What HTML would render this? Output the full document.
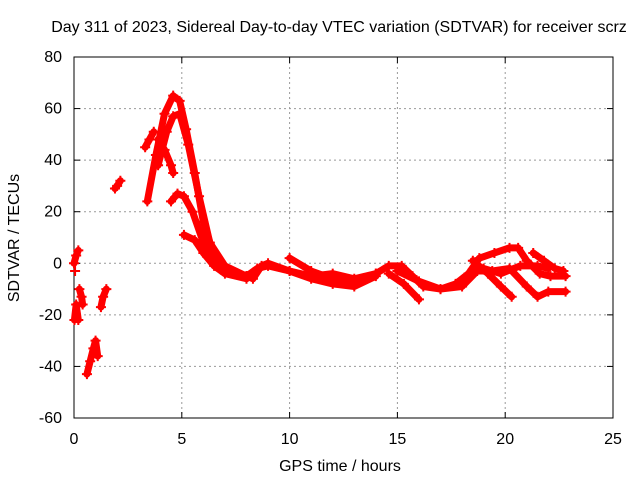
<!DOCTYPE html>
<html><head><meta charset="utf-8"><style>
body{margin:0;background:#fff}
svg{display:block;font-family:"Liberation Sans",sans-serif;font-size:16px}
</style></head><body>
<svg id="c" width="640" height="480">
<rect width="640" height="480" fill="#fff"/>
<g id="grid"></g>
<g id="axes"></g>
<g id="data"></g>
<text x="339" y="32" text-anchor="middle">Day 311 of 2023, Sidereal Day-to-day VTEC variation (SDTVAR) for receiver scrz</text>
<text x="340" y="471" text-anchor="middle">GPS time / hours</text>
<text transform="translate(19,238) rotate(-90)" text-anchor="middle">SDTVAR / TECUs</text>
</svg>
<script>
const xTicks=[0,5,10,15,20,25];
const yTicks=[-60,-40,-20,0,20,40,60,80];
const traceA=[[3.4,24],[3.8,42],[4.2,58],[4.6,65],[4.9,63],[5.2,52],[5.6,35],[6,16],[6.5,3],[7,-2],[7.5,-4],[8,-5],[8.3,-6],[8.7,-1],[9,0],[10,-3],[11,-5],[12,-4],[13,-6],[14,-4]];
const traceB=[[3.9,38],[4.3,51],[4.6,57],[4.9,58],[5.3,46],[5.8,26],[6.3,8],[7,-1],[8,-5],[8.5,-2],[9,-1],[10,-3],[11,-6],[12,-8],[13,-9],[14,-5]];
const traceC=[[3.3,45],[3.5,48],[3.7,51]];
const traceC2=[[3.9,48],[4.2,44],[4.5,38],[4.6,35]];
const traceD=[[4.5,24],[4.8,27],[5.1,26],[5.5,20],[6,8],[6.5,0],[7,-3],[8,-5]];
const traceE=[[5.1,11],[5.6,9],[6,4],[6.5,-1],[7,-4],[8,-6]];
const trace0a=[[0.02,-22],[0.1,-16],[0.2,-22]];
const trace0b=[[0.0,0],[0.1,3],[0.2,5]];
const trace0c=[[0.05,-3]];
const trace0d=[[0.25,-10],[0.35,-13],[0.4,-16]];
const trace0e=[[1.25,-17],[1.35,-13],[1.5,-10]];
const trace0f=[[0.6,-43],[0.75,-38],[0.9,-33],[1.0,-30],[1.1,-36]];
const trace0g=[[1.9,29],[2.0,30],[2.15,32]];
const traceF=[[10,2],[11,-3],[12,-6],[13,-8],[14,-4],[14.6,-1],[15.2,-1],[15.7,-5],[16.2,-9],[17,-10],[17.7,-8],[18.3,-4],[18.8,2],[19.5,4],[20.2,6],[20.6,6],[21,1],[21.6,-4],[22.1,-5],[22.8,-5]];
const traceG=[[14.6,-4],[15.3,-8],[16,-14]];
const traceH=[[15,-3],[16,-7],[17,-10],[18,-9],[18.7,-3],[19.4,-3],[20.2,-2],[21,-9],[21.5,-13],[22,-11],[22.8,-11]];
const traceI=[[18.5,1],[19.2,-4],[19.8,-9],[20.3,-13]];
const traceJ=[[19,-2],[19.8,-4],[20.7,-1],[21.5,-1],[22,-2]];
const traceK=[[21.3,4],[21.8,1],[22.3,-2],[22.7,-3]];
const traces=[traceA,traceB,traceC,traceC2,traceD,traceE,trace0a,trace0b,trace0c,trace0d,trace0e,trace0f,trace0g,traceF,traceG,traceH,traceI,traceJ,traceK];
const X0=74,X1=613,Y0=418,Y1=57;
const sx=v=>X0+(v-0)/25*(X1-X0);
const sy=v=>Y0-(v+60)/140*(Y0-Y1);
const NS="http://www.w3.org/2000/svg";
const g=document.getElementById('grid'),ax=document.getElementById('axes'),d=document.getElementById('data');
function mk(p,t,a){const e=document.createElementNS(NS,t);for(const k in a)e.setAttribute(k,a[k]);p.appendChild(e);return e;}
xTicks.forEach(t=>{const x=sx(t);
 if(t>0&&t<25){const l=mk(g,'line',{x1:x,x2:x,y1:Y1,y2:Y0,stroke:'#999','stroke-dasharray':'2,3'});
 
 }
 const tx=mk(ax,'text',{x:x,y:444,'text-anchor':'middle'});tx.textContent=t;
 
 
 mk(ax,'line',{x1:x,x2:x,y1:Y0,y2:Y0-6,stroke:'#000'});mk(ax,'line',{x1:x,x2:x,y1:Y1,y2:Y1+6,stroke:'#000'});});
yTicks.forEach(t=>{const y=sy(t);
 if(t>-60&&t<80){const l=mk(g,'line',{x1:X0,x2:X1,y1:y,y2:y,stroke:'#999','stroke-dasharray':'2,3'});
 
 }
 const tx=mk(ax,'text',{x:62,y:y+5,'text-anchor':'end'});tx.textContent=t;
 
 
 mk(ax,'line',{x1:X0,x2:X0+6,y1:y,y2:y,stroke:'#000'});mk(ax,'line',{x1:X1,x2:X1-6,y1:y,y2:y,stroke:'#000'});});
const fr=mk(ax,'rect',{x:X0,y:Y1,width:X1-X0,height:Y0-Y1,fill:'none',stroke:'#000'});


traces.forEach(tr=>{
 const pts=tr.map(p=>sx(p[0])+','+sy(p[1])).join(' ');
 const pl=mk(d,'polyline',{points:pts,fill:'none',stroke:'#f00','stroke-width':7,'stroke-linejoin':'round','stroke-linecap':'round'});
 
 
 tr.forEach(p=>{const x=sx(p[0]),y=sy(p[1]);
  const m=mk(d,'path',{d:`M${x-5},${y}h10M${x},${y-5}v10`,stroke:'#f00','stroke-width':2});
  
  });
});
</script>
</body></html>
